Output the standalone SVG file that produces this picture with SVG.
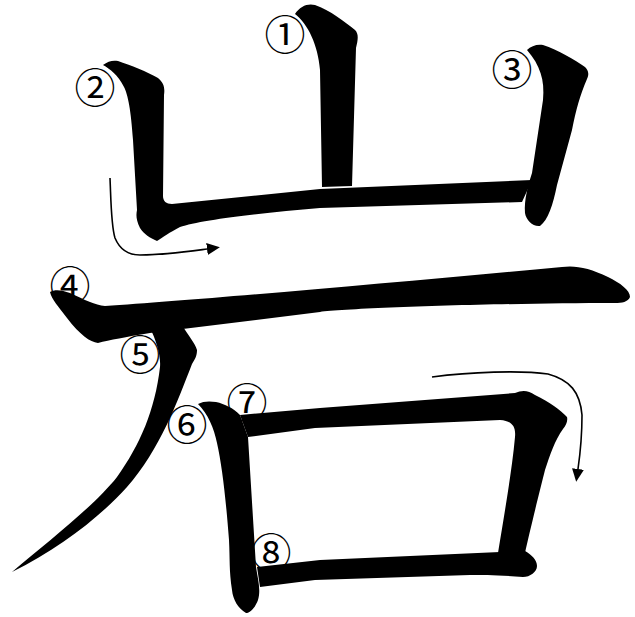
<svg xmlns="http://www.w3.org/2000/svg" width="635" height="617" viewBox="0 0 635 617">
<style>
.s{fill:#000;stroke:none}
.a{fill:none;stroke:#000;stroke-width:1.6}
.n{font-family:"Noto Sans CJK JP","Noto Sans",sans-serif;font-size:41px;fill:#000;text-anchor:middle;dominant-baseline:central}
</style>
<defs>
<marker id="ah" markerUnits="userSpaceOnUse" markerWidth="14" markerHeight="14" refX="0" refY="6" orient="auto">
<path d="M0,0 L13,6 L0,12 Z" fill="#000"/>
</marker>
</defs>
<rect width="635" height="617" fill="#fff"/>
<g id="stroke1"><path class="s" d="M295,14 C300,6 308,3 315,5 C330,10 345,22 355,30 C359,34 358,40 356,48 L352,186 L322,187 L320,70 C318,45 308,24 295,14 Z"/></g>
<g id="stroke2"><path class="s" d="M103,65 C108,61 113,60 118,61 C130,65 148,72 158,78 C164,83 165,88 164,95 L163,196 C163,201 166,204 172,204 L320,189 L532,180 L522,202 L320,208 C260,213 200,220 180,227 C170,232 162,238 157,241 C150,238 144,234 140,228 C136,220 136,215 137,210 L133,140 C131,110 128,95 124,87 C118,75 110,69 103,65 Z"/></g>
<g id="stroke3"><path class="s" d="M527,50 C531,46 537,44 543,45 C558,50 575,60 585,67 C589,71 589,75 587,79 C580,95 576,110 572,130 L557,185 C553,205 548,220 540,226 C533,227 526,220 525,213 C524,200 528,185 532,173 L543,100 C545,80 540,65 527,50 Z"/></g>
<g id="stroke4"><path class="s" d="M50,292 C55,289 62,290 70,293 C85,300 95,305 105,306 C200,300 400,282 562,267 C575,265 590,268 608,277 C620,283 630,290 630,297 C628,302 622,303 615,303 C500,303 350,308 320,312 L150,333 C125,337 110,340 98,343 C90,342 80,335 67,318 C58,306 52,300 50,292 Z"/></g>
<g id="stroke5"><path class="s" d="M150,328 L182,325 C188,335 195,343 197,350 C197,356 195,359 192,364 C178,400 160,450 127,487 C100,517 60,548 12,572 C50,540 95,505 117,477 C140,445 155,410 160,367 C161,355 156,340 150,328 Z"/></g>
<g id="stroke6"><path class="s" d="M198,404 C203,401 210,401 216,402 C225,404 233,408 240,415 L248,437 L256,567 C258,580 261,590 258,600 C255,608 250,613 246,613 C238,608 233,600 232,590 C229,570 230,560 229,540 C226,500 222,465 217,443 C214,428 208,414 198,404 Z"/></g>
<g id="stroke7"><path class="s" d="M240,415 L320,408 L515,393 C522,390 528,390 535,395 C550,402 560,410 567,417 C568,421 566,425 563,429 C555,440 550,455 545,470 C540,490 530,530 525,553 L498,553 C505,510 512,470 515,437 C516,426 512,421 500,420 L315,428 L248,437 Z"/></g>
<g id="stroke8"><path class="s" d="M257,567 L320,560 L500,552 L525,551 C532,555 537,560 537,566 C537,572 530,577 523,577 C500,575 482,575 470,575 L315,580 L260,587 Z"/></g>
<g id="connectors">
<path class="a" d="M110,178 C111,200 111,225 115,238 C120,250 128,255 140,255 C165,255 185,252 207,249" marker-end="url(#ah)"/>
<path class="a" d="M432,377 C470,372 520,370 548,374 C570,380 580,392 582,415 C582,435 580,455 578,469" marker-end="url(#ah)"/>
</g>
<g id="labels">
<text class="n" x="285" y="32">①</text>
<text class="n" x="95" y="85">②</text>
<text class="n" x="512" y="67">③</text>
<text class="n" x="70" y="283">④</text>
<text class="n" x="140" y="352">⑤</text>
<text class="n" x="187" y="422">⑥</text>
<text class="n" x="247" y="400">⑦</text>
<text class="n" x="271" y="550">⑧</text>
</g>
</svg>
